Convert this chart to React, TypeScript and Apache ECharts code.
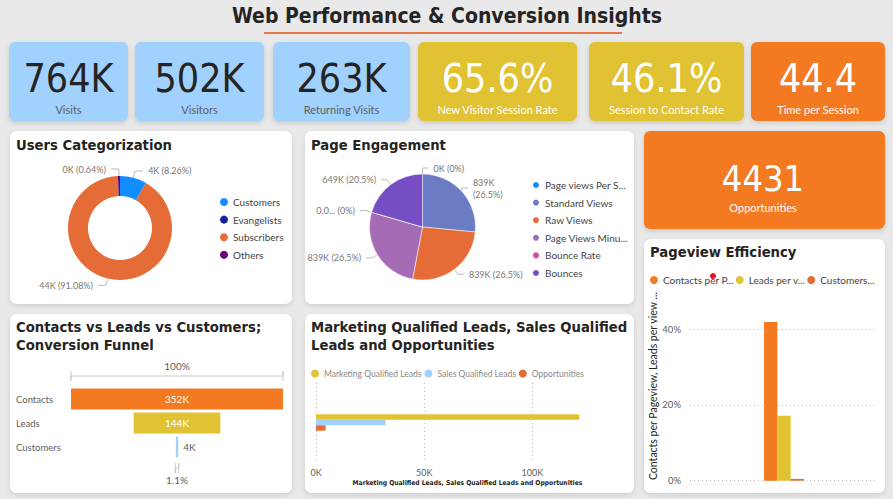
import React, { useEffect, useRef } from "react";
import * as echarts from "echarts";

// ---------- data ----------
const pageTitle = "Web Performance & Conversion Insights";
const kpiValues = ["764K", "502K", "263K", "65.6%", "46.1%", "44.4"];
const kpiLabels = ["Visits", "Visitors", "Returning Visits", "New Visitor Session Rate", "Session to Contact Rate", "Time per Session"];
const opportunitiesValue = "4431";
const opportunitiesLabel = "Opportunities";

const userCategories = ["Customers", "Evangelists", "Subscribers", "Others"];
const userValues = [3990, 10, 44000, 309];

const engagementCategories = ["Page views Per Session", "Standard Views", "Raw Views", "Page Views Minus Bounces", "Bounce Rate", "Bounces"];
const engagementValues = [4, 839000, 839000, 839000, 0.005, 649000];

const funnelStages = ["Contacts", "Leads", "Customers"];
const funnelValues = [352000, 144000, 4000];

const leadSeries = ["Marketing Qualified Leads", "Sales Qualified Leads", "Opportunities"];
const leadValues = [121700, 32200, 4431];

const efficiencySeries = ["Contacts per Pageview", "Leads per view", "Customers per view"];
const efficiencyValues = [0.4195, 0.1716, 0.0048];

// ---------- styles ----------
const BG = "#e9e9e9";
const BLUE = "#A0D1FF";
const YELLOW = "#E0C232";
const ORANGE = "#F47A22";
const DARK = "#252423";
const GREY = "#605e5c";
const DIN = "'DejaVu Sans Condensed', 'DejaVu Sans', sans-serif";
const UI = "Lato, 'Noto Sans', sans-serif";
const userColors = ["#118DFF", "#12239E", "#E66C37", "#6B007B"];
const engColors = ["#118DFF", "#6B7BC4", "#E66C37", "#A66BB5", "#E044A7", "#744EC2"];
const funnelColors = [ORANGE, YELLOW, BLUE];
const leadColors = [YELLOW, BLUE, "#E66C37"];
const effColors = [ORANGE, YELLOW, "#E66C37"];

const kpiBoxes = [
  { x: 9, w: 119, bg: BLUE, fg: DARK, lab: GREY },
  { x: 135, w: 129, bg: BLUE, fg: DARK, lab: GREY },
  { x: 273, w: 137, bg: BLUE, fg: DARK, lab: GREY },
  { x: 418, w: 159, bg: YELLOW, fg: "#fff", lab: "#fff" },
  { x: 589, w: 155, bg: YELLOW, fg: "#fff", lab: "#fff" },
  { x: 751, w: 134, bg: ORANGE, fg: "#fff", lab: "#fff" },
];

const cards = [
  { x: 10, y: 131, w: 282, h: 173 },
  { x: 305, y: 131, w: 329, h: 173 },
  { x: 10, y: 314, w: 282, h: 179 },
  { x: 305, y: 314, w: 329, h: 179 },
  { x: 644, y: 239, w: 241, h: 254 },
];

const kFmt = (v: number) => (v < 1 ? "0.0..." : Math.round(v / 1000) + "K");

function buildOption(): any {
  const graphic: any[] = [];
  graphic.push({
    type: "text", x: 447, y: 16, z: 10,
    style: { text: pageTitle, font: `bold 21px ${DIN}`, fill: DARK, align: "center", verticalAlign: "middle" },
  });
  graphic.push({ type: "line", z: 10, shape: { x1: 264, y1: 33, x2: 622, y2: 33 }, style: { stroke: "#E8784A", lineWidth: 2 } });

  kpiBoxes.forEach((b, i) => {
    graphic.push({
      type: "rect", shape: { x: b.x, y: 42, width: b.w, height: 79, r: 6 },
      style: { fill: b.bg, shadowBlur: 5, shadowColor: "rgba(0,0,0,0.15)", shadowOffsetY: 2 }, z: -5,
    });
    graphic.push({
      type: "text", x: b.x + b.w / 2, y: 78, z: 10,
      style: { text: kpiValues[i], font: `39px ${DIN}`, fill: b.fg, align: "center", verticalAlign: "middle" },
    });
    graphic.push({
      type: "text", x: b.x + b.w / 2, y: 109, z: 10,
      style: { text: kpiLabels[i], font: `11px ${UI}`, fill: b.lab, align: "center", verticalAlign: "middle" },
    });
  });

  graphic.push({
    type: "rect", shape: { x: 644, y: 131, width: 241, height: 98, r: 6 },
    style: { fill: ORANGE, shadowBlur: 5, shadowColor: "rgba(0,0,0,0.15)", shadowOffsetY: 2 }, z: -5,
  });
  graphic.push({
    type: "text", x: 763, y: 178, z: 10,
    style: { text: opportunitiesValue, font: `36px ${DIN}`, fill: "#fff", align: "center", verticalAlign: "middle" },
  });
  graphic.push({
    type: "text", x: 763, y: 207, z: 10,
    style: { text: opportunitiesLabel, font: `11px ${UI}`, fill: "#fff", align: "center", verticalAlign: "middle" },
  });

  cards.forEach((c) => {
    graphic.push({
      type: "rect", shape: { x: c.x, y: c.y, width: c.w, height: c.h, r: 7 },
      style: { fill: "#fff", shadowBlur: 5, shadowColor: "rgba(0,0,0,0.12)", shadowOffsetY: 2 }, z: -5,
    });
  });

  const cardTitle = (text: string, x: number, y: number) => ({
    type: "text", x, y, z: 10,
    style: { text, font: `bold 14.7px ${DIN}`, fill: DARK, align: "left", verticalAlign: "middle" },
  });
  graphic.push(cardTitle("Users Categorization", 16, 144));
  graphic.push(cardTitle("Page Engagement", 311, 144));
  graphic.push(cardTitle("Contacts vs Leads vs Customers;", 16, 326));
  graphic.push(cardTitle("Conversion Funnel", 16, 344));
  graphic.push(cardTitle("Marketing Qualified Leads, Sales Qualified", 311, 326));
  graphic.push(cardTitle("Leads and Opportunities", 311, 344));
  graphic.push(cardTitle("Pageview Efficiency", 650, 251));

  // funnel brackets
  const fL = 71, fW = 212;
  const fMid = fL + fW / 2;
  graphic.push({ type: "polyline", z: 10, shape: { points: [[fL, 371], [fL, 381], [fL, 376], [fL + fW, 376], [fL + fW, 371], [fL + fW, 381]] }, style: { stroke: "#c8c8c8", lineWidth: 1, fill: null } });
  graphic.push({ type: "text", x: fMid, y: 366, z: 10, style: { text: "100%", font: `10px ${UI}`, fill: GREY, align: "center", verticalAlign: "middle" } });
  const cw = (funnelValues[2] / funnelValues[0]) * fW;
  graphic.push({ type: "polyline", z: 10, shape: { points: [[fMid - cw / 2 - 0.5, 463], [fMid - cw / 2 - 0.5, 473], [fMid - cw / 2 - 0.5, 468], [fMid + cw / 2 + 0.5, 468], [fMid + cw / 2 + 0.5, 463], [fMid + cw / 2 + 0.5, 473]] }, style: { stroke: "#c8c8c8", lineWidth: 1, fill: null } });
  graphic.push({ type: "text", x: fMid, y: 480, z: 10, style: { text: ((funnelValues[2] / funnelValues[0]) * 100).toFixed(1) + "%", font: `10px ${UI}`, fill: GREY, align: "center", verticalAlign: "middle" } });

  // stray legend dot in pageview legend
  graphic.push({ type: "circle", z: 20, shape: { cx: 713, cy: 276, r: 3 }, style: { fill: "#E81123" } });

  const legendBase = {
    icon: "circle", itemWidth: 8, itemHeight: 8,
    textStyle: { fontFamily: UI, fontSize: 10, color: "#444" },
  };

  const fMax = funnelValues[0];
  const pieLabel = (p: any) => `${kFmt(p.value)} (${p.percent}%)`;

  return {
    animation: false,
    backgroundColor: BG,
    graphic,
    legend: [
      { ...legendBase, orient: "vertical", left: 215, top: 192, itemGap: 7.6, data: userCategories },
      {
        ...legendBase, orient: "vertical", left: 526, top: 175, itemGap: 7.6,
        textStyle: { ...legendBase.textStyle, width: 87, overflow: "truncate", ellipsis: "..." },
        data: engagementCategories,
      },
      {
        ...legendBase, left: 306, top: 364, itemGap: 3, itemWidth: 8, itemHeight: 8,
        textStyle: { fontFamily: UI, fontSize: 8.5, color: "#888" }, data: leadSeries,
      },
      {
        ...legendBase, left: 645, top: 270, itemGap: 2,
        textStyle: { fontFamily: UI, fontSize: 10, color: "#444" },
        data: [
          { name: efficiencySeries[0], textStyle: { width: 77, overflow: "truncate", ellipsis: "..." } },
          { name: efficiencySeries[1], textStyle: { width: 58, overflow: "truncate", ellipsis: "..." } },
          { name: efficiencySeries[2], textStyle: { width: 56, overflow: "truncate", ellipsis: "..." } },
        ],
      },
    ],
    grid: [
      { left: fL, top: 387, width: fW, height: 72 },
      { left: 316, top: 383, width: 302.9, height: 79 },
      { left: 690, top: 291.4, width: 188, height: 189.3 },
    ],
    xAxis: [
      { gridIndex: 0, type: "value", min: 0, max: fMax, show: false },
      {
        gridIndex: 1, type: "value", min: 0, max: 140000, interval: 50000,
        axisLine: { show: false }, axisTick: { show: false },
        axisLabel: { formatter: (v: number) => v / 1000 + "K", showMaxLabel: false, color: GREY, fontFamily: UI, fontSize: 9, margin: 6 },
        splitLine: { show: true, showMaxLine: false, lineStyle: { type: [1, 3], color: "#bbb" } },
        name: "Marketing Qualified Leads, Sales Qualified Leads and Opportunities",
        nameLocation: "middle", nameGap: 17,
        nameTextStyle: { fontFamily: DIN, fontWeight: "bold", fontSize: 6.7, color: DARK },
      },
      { gridIndex: 2, type: "category", data: [""], show: false },
    ],
    yAxis: [
      {
        gridIndex: 0, type: "category", data: funnelStages, inverse: true,
        axisLine: { show: false }, axisTick: { show: false },
        axisLabel: { align: "left", margin: 55, color: GREY, fontFamily: UI, fontSize: 9.5 },
      },
      { gridIndex: 1, type: "category", data: [""], show: false },
      {
        gridIndex: 2, type: "value", min: 0, max: 0.5, interval: 0.2,
        axisLine: { show: false }, axisTick: { show: false },
        axisLabel: { formatter: (v: number) => Math.round(v * 100) + "%", showMaxLabel: false, color: GREY, fontFamily: UI, fontSize: 9.5, margin: 9 },
        splitLine: { show: true, showMaxLine: false, lineStyle: { type: [1, 3], color: "#bbb" } },
        name: "Contacts per Pageview, Leads per view and Customers per view",
        nameLocation: "middle", nameGap: 30,
        nameTruncate: { maxWidth: 190, ellipsis: "..." },
        nameTextStyle: { fontFamily: UI, fontSize: 10.5, color: DARK },
      },
    ],
    series: [
      {
        type: "pie", name: "Users", center: [120, 228], radius: [32, 52], startAngle: 90,
        percentPrecision: 2,
        label: { fontFamily: UI, fontSize: 9, color: "#777", formatter: pieLabel },
        labelLine: { length: 7, length2: 8, lineStyle: { color: "#bbb" } },
        data: userCategories.map((n, i) => ({
          name: n, value: userValues[i], itemStyle: { color: userColors[i] },
          ...(n === "Evangelists" ? { label: { show: false }, labelLine: { show: false } } : {}),
        })),
      },
      {
        type: "pie", name: "Engagement", center: [422.5, 227], radius: [0, 53], startAngle: 90,
        percentPrecision: 1, minAngle: 0,
        itemStyle: { borderColor: "#fff", borderWidth: 0.5 },
        label: { fontFamily: UI, fontSize: 9, lineHeight: 12, color: "#777", formatter: pieLabel },
        labelLine: { length: 6, length2: 6, lineStyle: { color: "#bbb" } },
        data: engagementCategories.map((n, i) => ({
          name: n, value: engagementValues[i], itemStyle: { color: engColors[i] },
          ...(n === "Standard Views"
            ? { label: { formatter: (p: any) => `${kFmt(p.value)}\n(${p.percent}%)` } }
            : {}),
        })),
      },
      {
        type: "bar", name: "offset", stack: "funnel", xAxisIndex: 0, yAxisIndex: 0, barCategoryGap: "12.5%",
        silent: true, itemStyle: { color: "transparent" },
        data: funnelValues.map((v) => (fMax - v) / 2),
      },
      {
        type: "bar", name: "Funnel", stack: "funnel", xAxisIndex: 0, yAxisIndex: 0, barCategoryGap: "12.5%",
        label: { show: true, fontFamily: UI, fontSize: 10, formatter: (p: any) => kFmt(p.value) },
        data: funnelValues.map((v, i) => ({
          value: v, itemStyle: { color: funnelColors[i] },
          label: v / fMax < 0.05 ? { position: "right", color: GREY } : { position: "inside", color: "#fff" },
        })),
      },
      ...leadSeries.map((n, i) => ({
        type: "bar", name: n, xAxisIndex: 1, yAxisIndex: 1, barWidth: 5.5, barGap: "0%",
        itemStyle: { color: leadColors[i] }, data: [leadValues[i]],
      })),
      ...efficiencySeries.map((n, i) => ({
        type: "bar", name: n, xAxisIndex: 2, yAxisIndex: 2, barWidth: 13.3, barGap: "0%",
        itemStyle: { color: effColors[i] }, data: [efficiencyValues[i]],
      })),
    ],
  };
}

export default function App() {
  const ref = useRef<HTMLDivElement>(null);
  useEffect(() => {
    if (!ref.current) return;
    const chart = echarts.init(ref.current, null, { renderer: "svg" });
    chart.setOption(buildOption());
    return () => chart.dispose();
  }, []);
  return <div ref={ref} style={{ position: "fixed", left: 0, top: 0, width: 893, height: 499 }} />;
}
